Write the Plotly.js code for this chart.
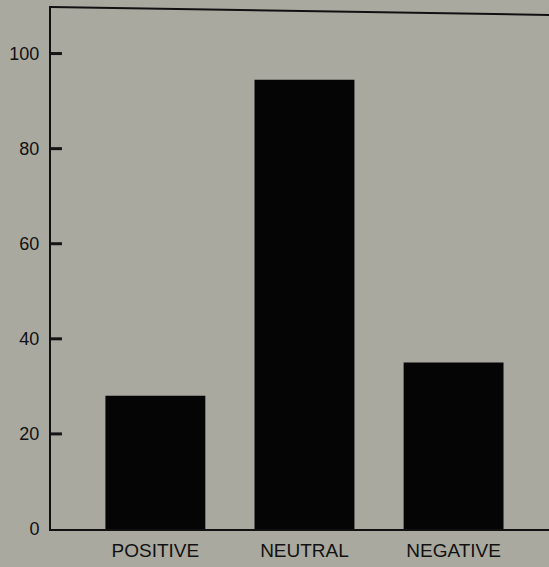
<!DOCTYPE html>
<html>
<head>
<meta charset="utf-8">
<script src="https://cdn.plot.ly/plotly-3.0.1.min.js"></script>
<style>html,body{margin:0;padding:0;background:#aaa9a0;}</style>
</head>
<body>
<div id="chart" style="width:549px;height:567px;"></div>
<script>
const categories = ["POSITIVE", "NEUTRAL", "NEGATIVE"];
const values = [28, 94.5, 35];
const yTickVals = [0, 20, 40, 60, 80, 100];
const yTickText = ["0", "20", "40", "60", "80", "100"];

const yMax = 110;
const bg = "#aaa9a0";
const ink = "#111111";

const tickShapes = yTickVals.filter(v => v > 0).map(v => ({
  type: "line", xref: "paper", yref: "paper", layer: "above",
  x0: 0, x1: 0.022, y0: v / yMax, y1: v / yMax,
  line: {color: "#151515", width: 3}
}));

Plotly.newPlot("chart", [{
  type: "bar",
  x: categories,
  y: values,
  marker: {color: "#050505", line: {width: 0}},
  hoverinfo: "skip"
}], {
  width: 549,
  height: 567,
  margin: {l: 51, r: 0, t: 6, b: 38},
  paper_bgcolor: bg,
  plot_bgcolor: bg,
  bargap: 0.33,
  showlegend: false,
  font: {family: "Liberation Sans, Arial, sans-serif", color: ink},
  xaxis: {
    type: "category",
    range: [-0.70, 2.64],
    showline: true,
    linecolor: ink,
    linewidth: 2,
    ticks: "",
    showgrid: false,
    zeroline: false,
    tickfont: {family: "Liberation Sans, Arial, sans-serif", size: 19, color: ink},
    ticklabelstandoff: 3
  },
  yaxis: {
    range: [0, yMax],
    tickvals: yTickVals,
    ticktext: yTickText,
    ticks: "",
    showline: true,
    linecolor: ink,
    linewidth: 2,
    showgrid: false,
    zeroline: false,
    tickfont: {family: "Liberation Sans, Arial, sans-serif", size: 18, color: ink},
    ticklabelstandoff: 6
  },
  shapes: [{
    type: "line", xref: "paper", yref: "paper",
    x0: 0, x1: 1, y0: 0.998, y1: 0.983,
    line: {color: ink, width: 2}
  }].concat(tickShapes)
}, {staticPlot: true, displayModeBar: false});
</script>
</body>
</html>
